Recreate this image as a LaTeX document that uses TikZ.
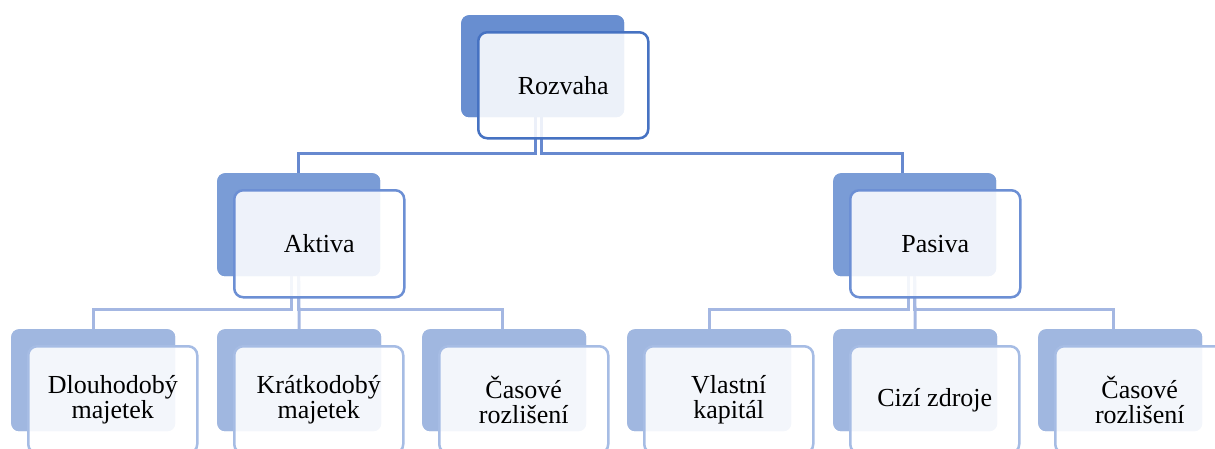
\documentclass[tikz,border=0pt]{standalone}
\usepackage{fontspec}
\setmainfont{Liberation Serif}
\newfontfamily\tnrfont{Liberation Serif}
\definecolor{cAb}{RGB}{104,142,208}
\definecolor{cAf}{RGB}{70,114,194}
\definecolor{cBb}{RGB}{122,156,214}
\definecolor{cBf}{RGB}{108,143,212}
\definecolor{cCb}{RGB}{160,183,224}
\definecolor{cCf}{RGB}{166,188,228}
\definecolor{lA}{RGB}{103,137,207}
\definecolor{lB}{RGB}{164,183,226}
\tikzset{
  backbox/.style={rectangle, rounded corners=8pt, inner sep=0pt, anchor=north west, draw=none},
  frontbox/.style={rectangle, rounded corners=9pt, inner sep=0pt, anchor=north west, line width=2.5pt,
     fill=white, fill opacity=0.88, text opacity=1, align=center,
     font=\tnrfont\fontsize{26pt}{25pt}\selectfont, text=black},
  lvlA/.style={fill=cAb, minimum width=163pt, minimum height=102pt},
  lvlB/.style={fill=cBb, minimum width=163pt, minimum height=103pt},
  lvlC/.style={fill=cCb, minimum width=164pt, minimum height=102pt},
  frA/.style={draw=cAf, minimum width=170pt, minimum height=106pt},
  frB/.style={draw=cBf, minimum width=170pt, minimum height=107pt},
  frC/.style={draw=cCf, minimum width=169pt, minimum height=107pt},
  conA/.style={draw=lA, line width=3pt},
  conB/.style={draw=lB, line width=3pt},
}
\begin{document}
\begin{tikzpicture}[x=1pt,y=-1pt]
\useasboundingbox (0,0) rectangle (1215,448);
\clip (0,0) rectangle (1215,448);
% back boxes
\node[backbox,lvlA] (rb) at (461,15) {};
\node[backbox,lvlB] (ab) at (217,173) {};
\node[backbox,lvlB] (pb) at (833,173) {};
\node[backbox,lvlC] (c1b) at (11,329) {};
\node[backbox,lvlC] (c2b) at (217,329) {};
\node[backbox,lvlC] (c3b) at (422,329) {};
\node[backbox,lvlC] (c4b) at (627,329) {};
\node[backbox,lvlC] (c5b) at (833,329) {};
\node[backbox,lvlC] (c6b) at (1038,329) {};
% connectors
\draw[conA] ([xshift=-7pt]rb.south) -- ++(0,-36pt) -| (ab.north);
\draw[conA] ([xshift=-1pt]rb.south) -- ++(0,-36pt) -| ([xshift=-12.5pt]pb.north);
\draw[conB] ([xshift=-7pt]ab.south) -- ++(0,-33pt) -| (c1b.north);
\draw[conB] (ab.south) -- (c2b.north);
\draw[conB] (ab.south) -- ++(0,-33pt) -| ([xshift=-1.5pt]c3b.north);
\draw[conB] ([xshift=-6pt]pb.south) -- ++(0,-33pt) -| (c4b.north);
\draw[conB] (pb.south) -- (c5b.north);
\draw[conB] (pb.south) -- ++(0,-33pt) -| ([xshift=-7pt]c6b.north);
% redraw back boxes over connectors
\node[backbox,lvlA] at (461,15) {};
\node[backbox,lvlB] at (217,173) {};
\node[backbox,lvlB] at (833,173) {};
\foreach \x in {11,217,422,627,833,1038} {\node[backbox,lvlC] at (\x,329) {};}
% front boxes
\node[frontbox,frA] (r) at (477,31) {Rozvaha};
\node[frontbox,frB] (a) at (233,189) {Aktiva};
\node[frontbox,frB] (p) at (849,189) {Pasiva};
\node[frontbox,frC] (c1) at (27,345) {Dlouhodobý\\majetek};
\node[frontbox,frC] (c2) at (233,345) {Krátkodobý\\majetek};
\node[frontbox,frC] (c3) at (438,345) {Časové\\rozlišení};
\node[frontbox,frC] (c4) at (643,345) {Vlastní\\kapitál};
\node[frontbox,frC] (c5) at (849,345) {Cizí zdroje};
\node[frontbox,frC] (c6) at (1054,345) {Časové\\rozlišení};
\end{tikzpicture}
\end{document}
